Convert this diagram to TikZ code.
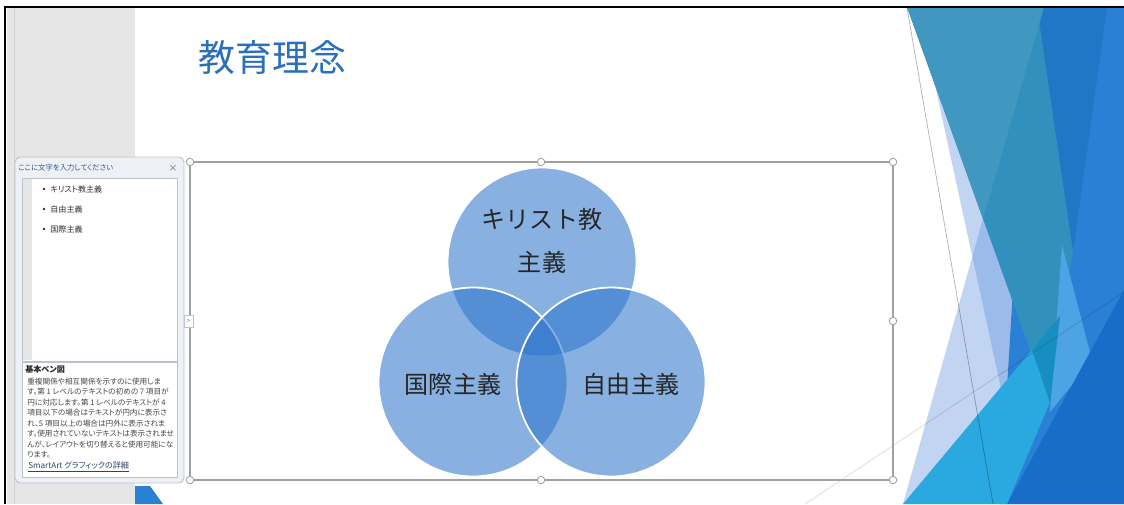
\documentclass[tikz,border=0pt]{standalone}
\usepackage{fontspec}
\setmainfont{Noto Sans CJK JP}
\newfontfamily\uifont[RawFeature=+palt]{Noto Sans CJK JP}
\usetikzlibrary{positioning}

\definecolor{titleblue}{RGB}{41,111,187}
\definecolor{vennblue}{RGB}{46,118,204}
\definecolor{stripgray}{RGB}{230,230,230}
\definecolor{panebg}{RGB}{237,240,245}
\definecolor{paneline}{RGB}{188,194,205}
\definecolor{panetext}{RGB}{52,84,140}
\definecolor{bodytext}{RGB}{70,70,70}
\definecolor{selgray}{RGB}{160,160,160}
\definecolor{facetpale}{RGB}{100,150,225}
\definecolor{facetteal}{RGB}{50,145,188}
\definecolor{facettealL}{RGB}{64,152,193}
\definecolor{facetdark}{RGB}{30,120,198}
\definecolor{facetbright}{RGB}{42,128,212}
\definecolor{facetsky}{RGB}{78,163,228}
\definecolor{facetdeep}{RGB}{24,110,198}
\definecolor{facetcyan}{RGB}{42,168,224}
\definecolor{facetmix}{RGB}{22,142,192}

\tikzset{
  venncircle/.style={circle, minimum size=3.78cm, inner sep=0pt, fill=vennblue,
    fill opacity=.57, draw=white, line width=1pt},
  vennlabel/.style={inner sep=0pt, text=black!85, font=\fontsize{13.7}{16}\selectfont},
  handle/.style={fill=white, draw=selgray, line width=0.5pt},
  panefont/.style={font=\uifont\fontsize{4.6}{5.5}\selectfont, inner sep=0pt, anchor=west}
}

\begin{document}
\begin{tikzpicture}[x=0.02cm, y=-0.02cm]
\useasboundingbox (0,0) rectangle (1124,504);
\fill[white] (0,0) rectangle (1124,504);

% facets on the right edge of the slide
\fill[facetpale, opacity=.4] (903,504) -- (1005,140) -- (1040,420) -- (1007,504) -- cycle;
\fill[facetpale, opacity=.4] (918,7) -- (1040,7) -- (1045,420) -- (1010,430) -- cycle;
\fill[facetbright] (1030,7) -- (1124,7) -- (1124,504) -- (1000,504) -- cycle;
\fill[facetdark] (1035,7) -- (1107,7) -- (1073,252) -- cycle;
\fill[facetteal] (907,7) -- (1037,7) -- (1073,252) -- (1058,330) -- (1048,400) -- cycle;
\fill[facettealL] (907,7) -- (1044,7) -- (983,219) -- cycle;
\fill[facetsky] (1062,245) -- (1092,360) -- (1050,412) -- cycle;
\fill[facetdeep] (1124,290) -- (1124,504) -- (1007,504) -- cycle;
\fill[facetcyan] (903,504) -- (1032,350) -- (1050,402) -- (1007,504) -- cycle;
\fill[facetmix] (1032,350) -- (1060,316) -- (1050,402) -- cycle;
\draw[black, opacity=.3, line width=0.4pt] (907,8) -- (993,504);
\draw[black, opacity=.12, line width=0.5pt] (805,504) -- (1124,292);

% gray strip and window border
\fill[stripgray] (7,8) rectangle (135,504);
\draw[black!18, line width=0.5pt] (14,8) -- (14,504);
\fill[facetbright] (135,486) -- (150,486) -- (163,504) -- (135,504) -- cycle;
\draw[black, line width=0.045cm] (5,504) -- (5,7) -- (1124,7);

\node[anchor=west, inner sep=0pt, text=titleblue, font=\fontsize{21}{25}\selectfont] (title) at (198,58) {教育理念};

% selection frame
\draw[selgray, line width=0.6pt] (190,162) rectangle (893,480);

% venn circles
\node[venncircle] (ctop) at (542,262) {};
\node[venncircle] (cleft) at (473,382) {};
\node[venncircle] (cright) at (611,382) {};
\node[vennlabel] (kirisuto) at (542,219) {キリスト教};
\node[vennlabel] (shugi) at (542,262) {主義};
\node[vennlabel] (kokusai) at (453,384) {国際主義};
\node[vennlabel] (jiyu) at (631,384) {自由主義};

\foreach \hx/\hy in {190/162, 541/162, 893/162, 893/321, 190/480, 541/480, 893/480}
  \draw[handle] (\hx,\hy) circle[radius=0.075cm];

% text pane
\draw[paneline, fill=panebg, rounded corners=3pt, line width=0.5pt] (15,157) rectangle (184,483);
\node[panefont, text=panetext, font=\uifont\fontsize{4.2}{5}\selectfont] (panetitle) at (18,168) {ここに文字を入力してください};
\node[inner sep=0pt, text=black!60, font=\fontsize{5}{6}\selectfont] (closex) at (173,168) {×};
\draw[paneline, fill=white, line width=0.5pt] (22,178) rectangle (177,361);
\fill[stripgray] (23,179) rectangle (32,360);
\foreach \by/\bname/\btext in {189/itemA/キリスト教主義, 209/itemB/自由主義, 229/itemC/国際主義} {
  \fill[black!80] (44,\by) circle[radius=0.028cm];
  \node[panefont, text=black!80] (\bname) at (50,\by) {\btext};
}
\draw[paneline, fill=white, line width=0.5pt] (22,362) rectangle (177,477);
\node[panefont, text=black!85] (venntitle) at (25,369) {\bfseries 基本ベン図};
\node[anchor=north west, inner sep=0pt, align=left, text=bodytext,
  font=\uifont\fontsize{4.35}{5.95}\selectfont] (venndesc) at (27,377.5) {%
  重複関係や相互関係を示すのに使用しま\\
  す。第 1 レベルのテキストの初めの 7 項目が\\
  円に対応します。第 1 レベルのテキストが 4\\
  項目以下の場合はテキストが円内に表示さ\\
  れ、5 項目以上の場合は円外に表示されま\\
  す。使用されていないテキストは表示されませ\\
  んが、レイアウトを切り替えると使用可能にな\\
  ります。};
\node[panefont, text=panetext!80!black] (smartart) at (28,467) {\underline{SmartArt グラフィックの詳細}};

% collapse tab
\draw[paneline, fill=white, line width=0.4pt] (184,315) rectangle (193,327);
\node[inner sep=0pt, text=black!45, font=\fontsize{4}{5}\selectfont] (tab) at (188.5,321) {>};
\end{tikzpicture}
\end{document}
